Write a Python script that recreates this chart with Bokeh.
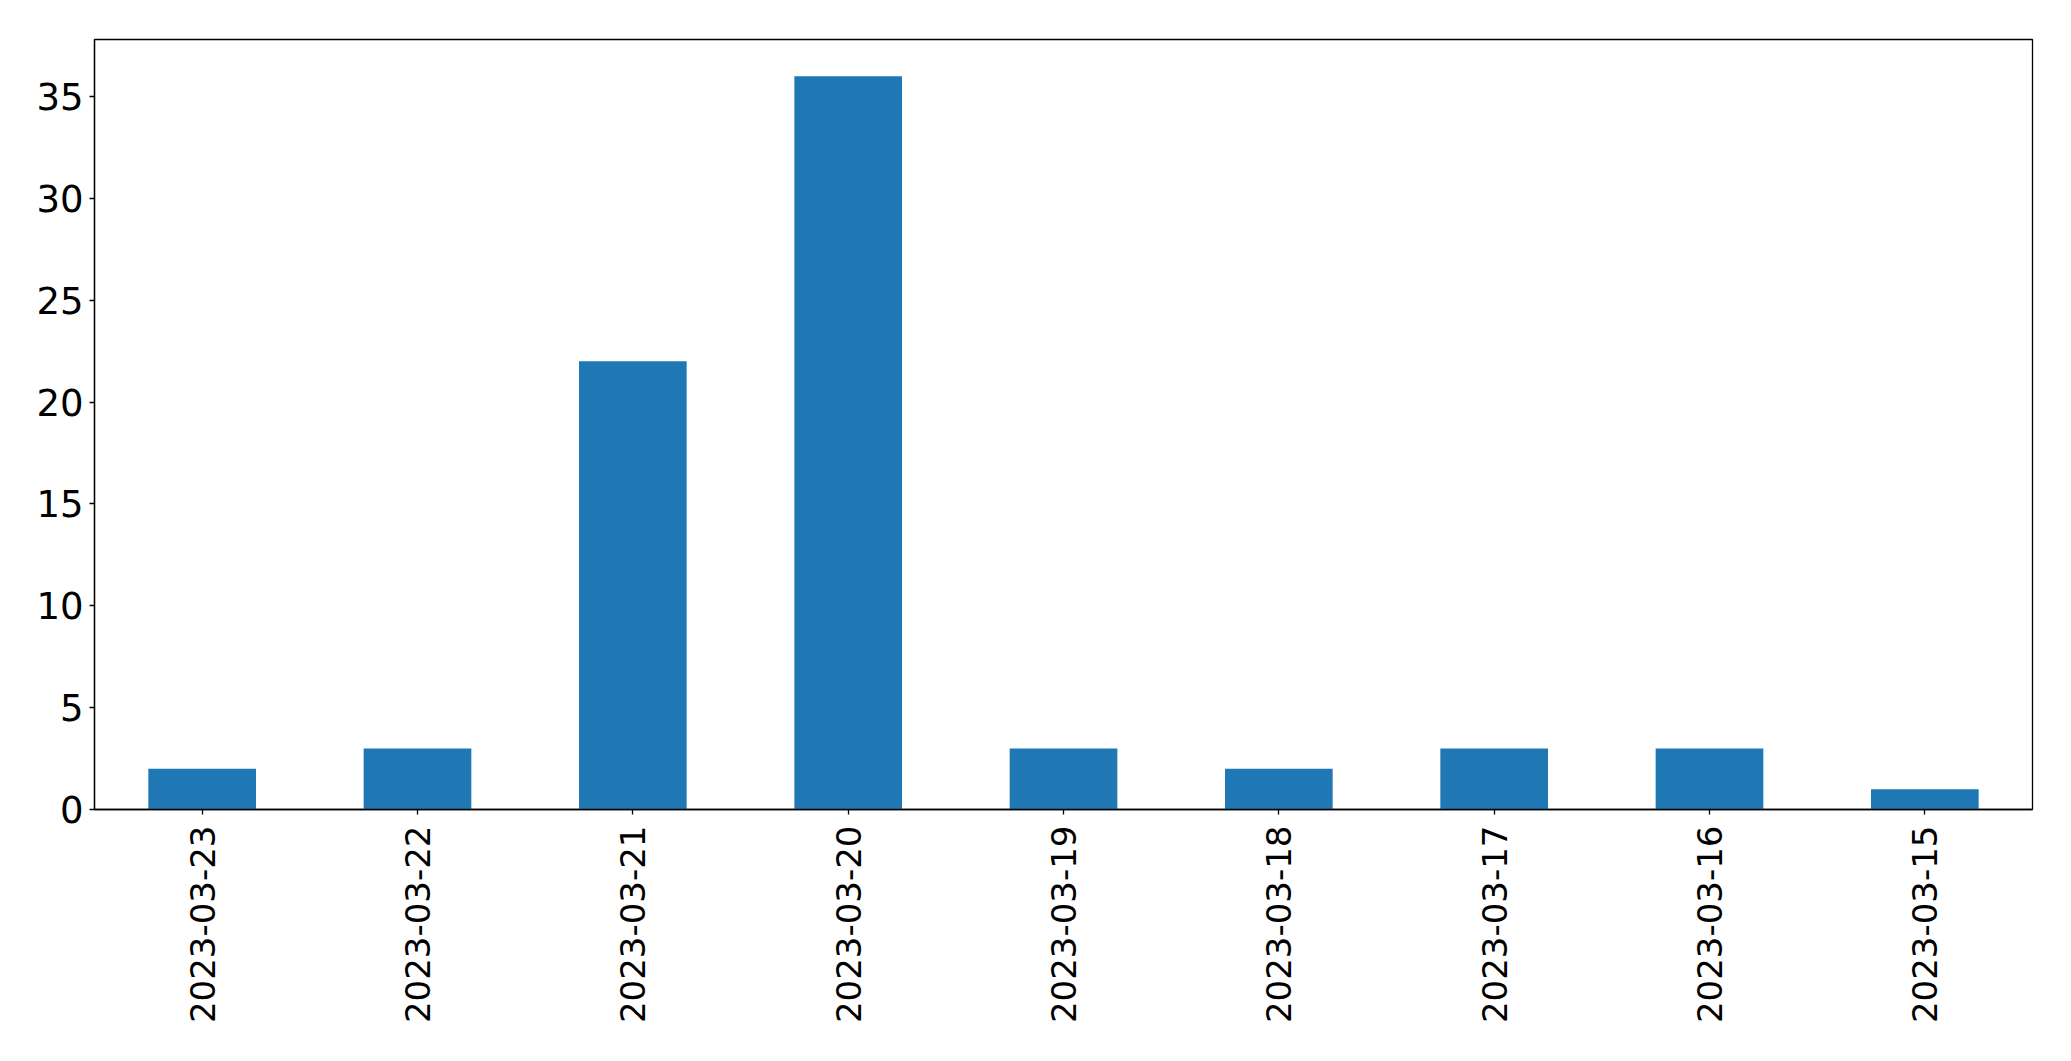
import math
from bokeh.plotting import figure
from bokeh.models import FixedTicker, Range1d, ColumnDataSource
from bokeh.embed import file_html
from bokeh.resources import INLINE

dates = ["2023-03-23", "2023-03-22", "2023-03-21", "2023-03-20", "2023-03-19",
         "2023-03-18", "2023-03-17", "2023-03-16", "2023-03-15"]
counts = [2, 3, 22, 36, 3, 2, 3, 3, 1]
y_ticks = [0, 5, 10, 15, 20, 25, 30, 35]

src = ColumnDataSource(data=dict(date=dates, count=counts))

p = figure(x_range=dates, y_range=Range1d(0, max(counts) * 1.05),
           frame_width=1938, frame_height=770,
           output_backend="svg", toolbar_location=None,
           min_border_left=94, min_border_top=39, min_border_right=20,
           min_border_bottom=220)
p.x_range.range_padding = 0
p.vbar(x="date", top="count", width=0.5, source=src, color="#1f77b4", line_color=None)

p.grid.visible = False
p.outline_line_color = "black"
p.outline_line_width = 1.3
p.background_fill_color = "white"
p.border_fill_color = "white"

for ax in (p.xaxis[0], p.yaxis[0]):
    ax.axis_line_color = "black"
    ax.axis_line_width = 1.3
    ax.major_tick_in = 0
    ax.major_tick_out = 5
    ax.major_tick_line_width = 1.3
    ax.minor_tick_line_color = None
    ax.major_label_text_font = "DejaVu Sans"
    ax.major_label_text_color = "black"

p.yaxis[0].major_label_text_font_size = "37px"
p.xaxis[0].major_label_text_font_size = "34px"
p.yaxis[0].ticker = FixedTicker(ticks=y_ticks)
p.yaxis[0].major_label_standoff = 6
p.xaxis[0].major_label_orientation = math.pi / 2
p.xaxis[0].major_label_standoff = 11
p.xaxis[0].group_text_font_size = "0px"

open("out.html", "w").write(file_html(p, INLINE))
